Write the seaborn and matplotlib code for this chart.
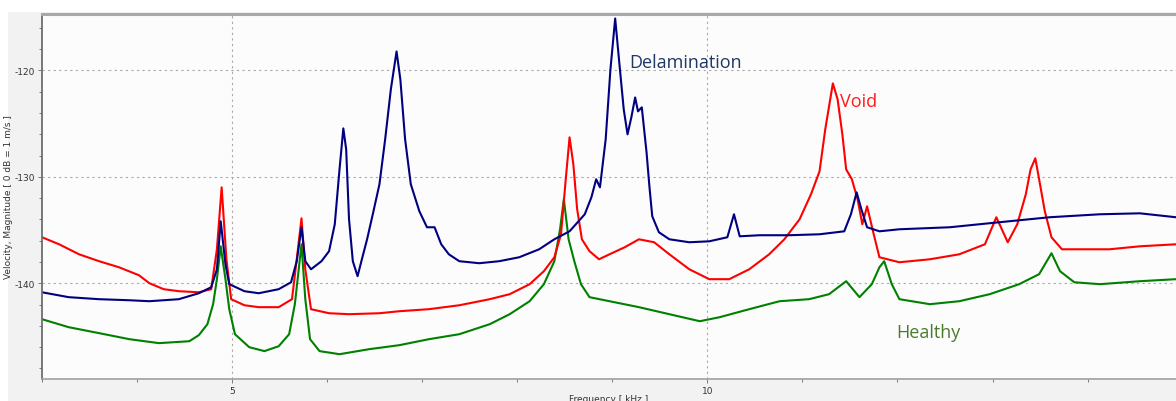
import numpy as np
import pandas as pd
import matplotlib
matplotlib.use("Agg")
import matplotlib.pyplot as plt
from matplotlib.patches import Rectangle
from matplotlib.ticker import MultipleLocator
import seaborn as sns

# ---------------- data ----------------
delam_f = [3.00, 3.28, 3.60, 3.92, 4.13, 4.44, 4.65, 4.78, 4.84, 4.88, 4.93, 4.97, 5.13, 5.28,
           5.49, 5.62, 5.68, 5.73, 5.77, 5.83, 5.94, 6.02, 6.08, 6.13, 6.17, 6.20, 6.23, 6.27,
           6.32, 6.36, 6.42, 6.48, 6.55, 6.61, 6.67, 6.73, 6.77, 6.82, 6.88, 6.97, 7.05, 7.13,
           7.20, 7.28, 7.39, 7.60, 7.81, 8.02, 8.23, 8.39, 8.55, 8.71, 8.78, 8.83, 8.87, 8.93,
           8.98, 9.03, 9.07, 9.12, 9.16, 9.20, 9.24, 9.27, 9.31, 9.36, 9.39, 9.42, 9.49, 9.60,
           9.81, 10.02, 10.21, 10.28, 10.34, 10.55, 10.86, 11.18, 11.44, 11.51, 11.57, 11.62,
           11.68, 11.81, 12.02, 12.55, 13.07, 13.60, 14.13, 14.55, 14.93]
delam_db = [-140.85, -141.31, -141.50, -141.60, -141.69, -141.50, -140.94, -140.38, -138.69,
            -134.18, -138.22, -140.09, -140.75, -140.94, -140.56, -139.91, -137.93, -134.74,
            -137.93, -138.69, -137.93, -136.99, -134.46, -129.30, -125.45, -127.42, -133.99,
            -137.93, -139.34, -137.93, -135.87, -133.52, -130.70, -126.48, -121.78, -118.22,
            -120.85, -126.48, -130.70, -133.24, -134.74, -134.74, -136.34, -137.28, -137.93,
            -138.12, -137.93, -137.56, -136.81, -135.87, -135.12, -133.52, -131.92, -130.23,
            -130.99, -126.48, -119.91, -115.12, -118.97, -123.66, -126.01, -124.41, -122.54,
            -123.85, -123.47, -127.70, -130.89, -133.71, -135.21, -135.87, -136.15, -136.06,
            -135.68, -133.52, -135.59, -135.49, -135.49, -135.40, -135.12, -133.52, -131.46,
            -133.05, -134.74, -135.12, -134.93, -134.74, -134.27, -133.80, -133.52, -133.43,
            -133.80]

void_f = [3.00, 3.18, 3.39, 3.60, 3.81, 4.02, 4.13, 4.28, 4.44, 4.65, 4.78, 4.84, 4.89, 4.94,
          4.99, 5.13, 5.28, 5.49, 5.63, 5.68, 5.73, 5.77, 5.83, 6.02, 6.23, 6.55, 6.76, 7.07,
          7.39, 7.71, 7.92, 8.13, 8.28, 8.39, 8.46, 8.51, 8.55, 8.59, 8.63, 8.68, 8.76, 8.86,
          8.97, 9.13, 9.28, 9.44, 9.60, 9.81, 10.02, 10.23, 10.44, 10.65, 10.81, 10.97, 11.09,
          11.18, 11.24, 11.32, 11.37, 11.42, 11.46, 11.52, 11.58, 11.63, 11.68, 11.75, 11.81,
          12.02, 12.34, 12.65, 12.92, 13.04, 13.16, 13.26, 13.35, 13.40, 13.45, 13.49, 13.55,
          13.62, 13.73, 13.92, 14.23, 14.55, 14.93]
void_db = [-135.68, -136.34, -137.28, -137.93, -138.50, -139.25, -140.00, -140.56, -140.75,
           -140.85, -140.56, -136.81, -130.99, -137.75, -141.50, -142.07, -142.25, -142.25,
           -141.50, -137.75, -133.90, -138.69, -142.44, -142.82, -142.91, -142.82, -142.63,
           -142.44, -142.07, -141.50, -141.03, -140.09, -138.87, -137.56, -135.40, -130.23,
           -126.29, -128.83, -133.05, -135.87, -136.99, -137.75, -137.28, -136.62, -135.87,
           -136.15, -137.28, -138.69, -139.62, -139.62, -138.69, -137.28, -135.87, -133.99,
           -131.64, -129.48, -125.54, -121.22, -122.72, -126.01, -129.30, -130.23, -132.11,
           -134.46, -132.77, -135.40, -137.56, -138.03, -137.75, -137.28, -136.34, -133.80,
           -136.15, -134.46, -131.64, -129.30, -128.26, -130.23, -133.24, -135.68, -136.81,
           -136.81, -136.81, -136.53, -136.34]

healthy_f = [3.00, 3.28, 3.60, 3.92, 4.23, 4.55, 4.65, 4.74, 4.80, 4.84, 4.88, 4.93, 4.97,
             5.03, 5.18, 5.34, 5.49, 5.60, 5.66, 5.73, 5.77, 5.82, 5.92, 6.13, 6.44, 6.76,
             7.07, 7.39, 7.71, 7.92, 8.13, 8.28, 8.39, 8.45, 8.49, 8.54, 8.60, 8.67, 8.76,
             8.97, 9.28, 9.60, 9.92, 10.13, 10.44, 10.76, 11.07, 11.28, 11.46, 11.60, 11.73,
             11.81, 11.86, 11.94, 12.02, 12.34, 12.65, 12.97, 13.28, 13.49, 13.62, 13.71,
             13.86, 14.13, 14.55, 14.93]
healthy_db = [-143.38, -144.13, -144.69, -145.26, -145.63, -145.45, -144.88, -143.85, -141.97,
              -139.62, -136.53, -139.62, -142.44, -144.79, -146.01, -146.38, -145.92, -144.79,
              -141.97, -136.34, -141.50, -145.26, -146.38, -146.67, -146.20, -145.82, -145.26,
              -144.79, -143.85, -142.91, -141.69, -140.09, -137.93, -134.93, -132.11, -135.87,
              -137.93, -140.09, -141.31, -141.69, -142.25, -142.91, -143.57, -143.19, -142.44,
              -141.69, -141.50, -141.03, -139.81, -141.31, -140.09, -138.50, -137.93, -140.09,
              -141.50, -141.97, -141.69, -141.03, -140.09, -139.15, -137.18, -138.87, -139.91,
              -140.09, -139.81, -139.62]

series_names = ["Healthy", "Void", "Delamination"]
series_colors = ["#008000", "#ff0000", "#000080"]
label_colors = ["#4a7c2e", "#ff1a1a", "#1f3864"]
x_major = [5, 10]
y_major = [-120, -130, -140]

df = pd.concat([
    pd.DataFrame({"f": healthy_f, "db": healthy_db, "s": "Healthy"}),
    pd.DataFrame({"f": void_f, "db": void_db, "s": "Void"}),
    pd.DataFrame({"f": delam_f, "db": delam_db, "s": "Delamination"}),
], ignore_index=True)

# ---------------- figure ----------------
sns.set_theme(style="white")
plt.rcParams["font.family"] = ["DejaVu Sans"]

W, H = 1176, 402
fig = plt.figure(figsize=(W / 100, H / 100), dpi=100)
fig.patch.set_facecolor("white")
fig.patches.append(Rectangle((8 / W, 0), 1 - 8 / W, 1 - 13 / H, transform=fig.transFigure,
                             facecolor="#f2f2f2", edgecolor="none", zorder=-10))

ax = fig.add_axes([42 / W, 22 / H, (W - 42) / W, (380 - 15) / H])
ax.set_facecolor("#fcfcfc")

sns.lineplot(data=df, x="f", y="db", hue="s", hue_order=series_names,
             palette=dict(zip(series_names, series_colors)), estimator=None,
             sort=False, linewidth=1.5, legend=False, ax=ax)

ax.set_xlim(3.0, 14.93)
ax.set_ylim(-149.0, -114.7)

ax.set_xticks(x_major)
ax.set_xticklabels([str(v) for v in x_major])
ax.set_yticks(y_major)
ax.set_yticklabels([str(v) for v in y_major])
ax.xaxis.set_minor_locator(MultipleLocator(1))
ax.yaxis.set_minor_locator(MultipleLocator(2))
ax.tick_params(axis="both", which="major", labelsize=6.5, labelcolor="#333333",
               length=3, width=0.6, color="#666666", pad=2, direction="out")
ax.tick_params(axis="both", which="minor", length=2, width=0.6, color="#666666", direction="out")
ax.tick_params(axis="x", which="both", bottom=True)
ax.tick_params(axis="y", which="both", left=True)

ax.grid(True, which="major", linestyle=(0, (2, 3)), color="#a8a8a8", linewidth=0.8)
ax.set_axisbelow(True)

ax.spines["right"].set_visible(False)
ax.spines["left"].set_color("#6e6e6e")
ax.spines["left"].set_linewidth(1.3)
ax.spines["top"].set_color("#a8a8a8")
ax.spines["top"].set_linewidth(2.2)
ax.spines["bottom"].set_color("#a0a0a0")
ax.spines["bottom"].set_linewidth(1.2)

ax.set_xlabel("Frequency [ kHz ]", fontsize=6.5, color="#333333")
ax.set_ylabel("Velocity, Magnitude [ 0 dB = 1 m/s ]", fontsize=6.5, color="#333333")
ax.xaxis.set_label_coords(0.5, -0.040)
ax.yaxis.set_label_coords(-0.026, 0.5)

# series labels
label_pos = {"Delamination": (9.18, -119.2), "Void": (11.39, -122.9), "Healthy": (11.99, -144.6)}
for name, col in zip(series_names, label_colors):
    xx, yy = label_pos[name]
    ax.text(xx, yy, name, color=col, fontsize=13, family=["Open Sans", "DejaVu Sans"],
            ha="left", va="center")

fig.savefig("out.png", dpi=100, facecolor=fig.get_facecolor())
